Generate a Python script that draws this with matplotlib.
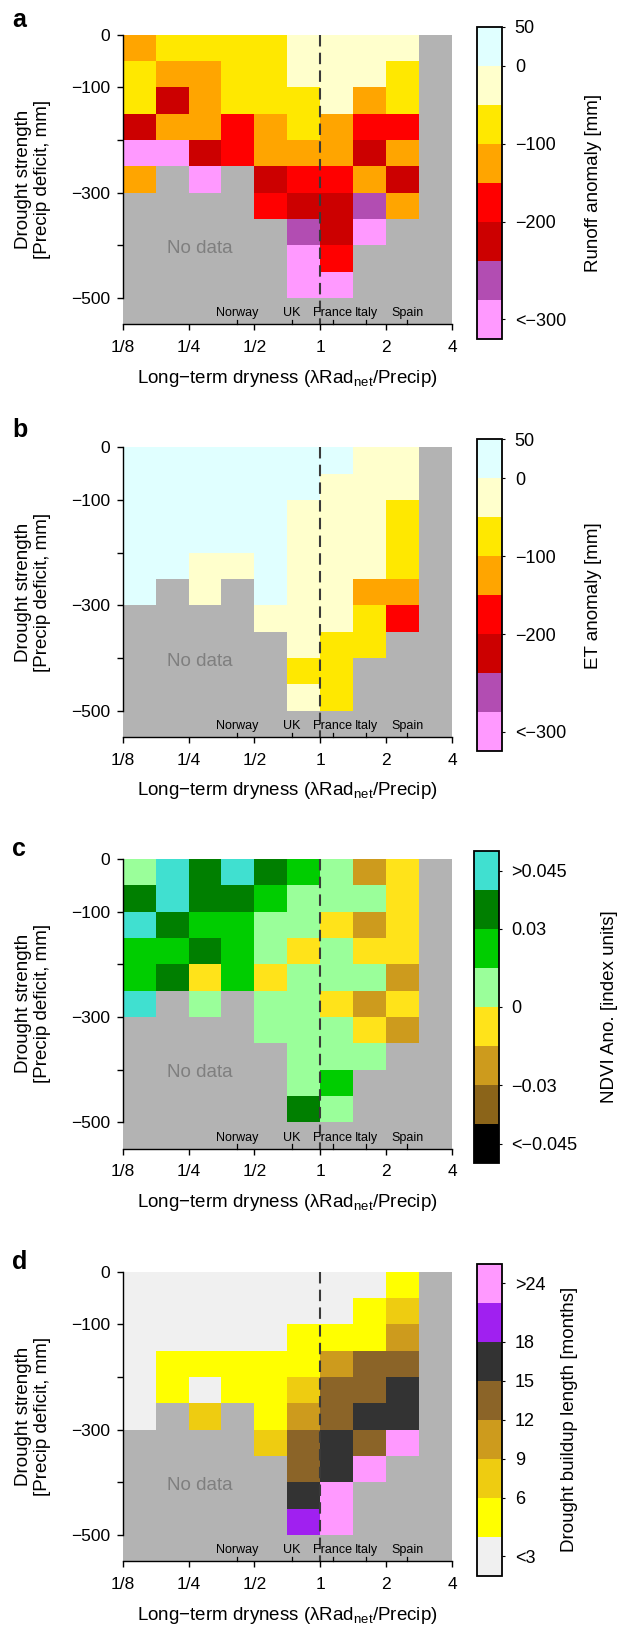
#Runoff / ET / NDVI anomalies and drought buildup length vs. dryness and drought strength
import numpy as np
import matplotlib.pyplot as plt
from matplotlib.colors import ListedColormap, BoundaryNorm
from matplotlib.cm import ScalarMappable
from matplotlib.ticker import NullLocator

plt.rcParams['font.family'] = ['Liberation Sans', 'DejaVu Sans']
plt.rcParams['mathtext.fontset'] = 'custom'
plt.rcParams['mathtext.rm'] = 'Liberation Sans'
plt.rcParams['mathtext.it'] = 'Liberation Sans:italic'

nan = np.nan

# grid: 10 columns (half-octave bins of dryness 1/8..4), 11 rows (50 mm bins of deficit 0..-550)
x_edges = 2.0 ** np.arange(-3, 2.01, 0.5)
y_edges = np.arange(0, -551, -50)

# a: runoff anomaly [mm] (bin mid values)
runoff = [
    [-125, -75, -75, -75, -75, -25, -25, -25, -25, nan],
    [-75, -125, -125, -75, -75, -25, -25, -25, -75, nan],
    [-75, -225, -125, -75, -75, -75, -25, -125, -75, nan],
    [-225, -125, -125, -175, -125, -75, -125, -175, -175, nan],
    [-325, -325, -225, -175, -125, -125, -125, -225, -125, nan],
    [-125, nan, -325, nan, -225, -175, -175, -125, -225, nan],
    [nan, nan, nan, nan, -175, -225, -225, -275, -125, nan],
    [nan, nan, nan, nan, nan, -275, -225, -325, nan, nan],
    [nan, nan, nan, nan, nan, -325, -175, nan, nan, nan],
    [nan, nan, nan, nan, nan, -325, -325, nan, nan, nan],
    [nan, nan, nan, nan, nan, nan, nan, nan, nan, nan],
]

# b: ET anomaly [mm]
et = [
    [25, 25, 25, 25, 25, 25, 25, -25, -25, nan],
    [25, 25, 25, 25, 25, 25, -25, -25, -25, nan],
    [25, 25, 25, 25, 25, -25, -25, -25, -75, nan],
    [25, 25, 25, 25, 25, -25, -25, -25, -75, nan],
    [25, 25, -25, -25, 25, -25, -25, -25, -75, nan],
    [25, nan, -25, nan, 25, -25, -25, -125, -125, nan],
    [nan, nan, nan, nan, -25, -25, -25, -75, -175, nan],
    [nan, nan, nan, nan, nan, -25, -75, -75, nan, nan],
    [nan, nan, nan, nan, nan, -75, -75, nan, nan, nan],
    [nan, nan, nan, nan, nan, -25, -75, nan, nan, nan],
    [nan, nan, nan, nan, nan, nan, nan, nan, nan, nan],
]

# c: NDVI anomaly [index units]
ndvi = [
    [0.0075, 0.0525, 0.0375, 0.0525, 0.0375, 0.0225, 0.0075, -0.0225, -0.0075, nan],
    [0.0375, 0.0525, 0.0375, 0.0375, 0.0225, 0.0075, 0.0075, 0.0075, -0.0075, nan],
    [0.0525, 0.0375, 0.0225, 0.0225, 0.0075, 0.0075, -0.0075, -0.0225, -0.0075, nan],
    [0.0225, 0.0225, 0.0375, 0.0225, 0.0075, -0.0075, 0.0075, -0.0075, -0.0075, nan],
    [0.0225, 0.0375, -0.0075, 0.0225, -0.0075, 0.0075, 0.0075, 0.0075, -0.0225, nan],
    [0.0525, nan, 0.0075, nan, 0.0075, 0.0075, -0.0075, -0.0225, -0.0075, nan],
    [nan, nan, nan, nan, 0.0075, 0.0075, 0.0075, -0.0075, -0.0225, nan],
    [nan, nan, nan, nan, nan, 0.0075, 0.0075, 0.0075, nan, nan],
    [nan, nan, nan, nan, nan, 0.0075, 0.0225, nan, nan, nan],
    [nan, nan, nan, nan, nan, 0.0375, 0.0075, nan, nan, nan],
    [nan, nan, nan, nan, nan, nan, nan, nan, nan, nan],
]

# d: drought buildup length [months]
buildup = [
    [1.5, 1.5, 1.5, 1.5, 1.5, 1.5, 1.5, 1.5, 4.5, nan],
    [1.5, 1.5, 1.5, 1.5, 1.5, 1.5, 1.5, 4.5, 7.5, nan],
    [1.5, 1.5, 1.5, 1.5, 1.5, 4.5, 4.5, 4.5, 10.5, nan],
    [1.5, 4.5, 4.5, 4.5, 4.5, 4.5, 10.5, 13.5, 13.5, nan],
    [1.5, 4.5, 1.5, 4.5, 4.5, 7.5, 13.5, 13.5, 16.5, nan],
    [1.5, nan, 7.5, nan, 4.5, 10.5, 13.5, 16.5, 16.5, nan],
    [nan, nan, nan, nan, 7.5, 13.5, 16.5, 13.5, 27, nan],
    [nan, nan, nan, nan, nan, 13.5, 16.5, 27, nan, nan],
    [nan, nan, nan, nan, nan, 16.5, 27, nan, nan, nan],
    [nan, nan, nan, nan, nan, 21, 27, nan, nan, nan],
    [nan, nan, nan, nan, nan, nan, nan, nan, nan, nan],
]

# colour classes (bottom -> top of colorbar)
mm_bounds = [-350, -300, -250, -200, -150, -100, -50, 0, 50]
mm_colors = ['#ff99ff', '#b24db2', '#cc0000', '#ff0000', '#ffa500', '#ffe800', '#ffffcc', '#e0ffff']
mm_ticks = [50, 0, -100, -200, -325]
mm_labels = ['50', '0', '\u2212100', '\u2212200', '<\u2212300']

ndvi_bounds = [-0.06, -0.045, -0.03, -0.015, 0, 0.015, 0.03, 0.045, 0.06]
ndvi_colors = ['#000000', '#8b6419', '#cd9b1d', '#ffe31a', '#9aff9a', '#00cd00', '#007f00', '#40e0d0']
ndvi_ticks = [0.0525, 0.03, 0, -0.03, -0.0525]
ndvi_labels = ['>0.045', '0.03', '0', '\u22120.03', '<\u22120.045']

bu_bounds = [0, 3, 6, 9, 12, 15, 18, 24, 30]
bu_colors = ['#f0f0f0', '#ffff00', '#eecc11', '#cd9b1d', '#8b6428', '#333333', '#a020f0', '#ff99ff']
bu_ticks = [27, 18, 15, 12, 9, 6, 1.5]
bu_labels = ['>24', '18', '15', '12', '9', '6', '<3']

countries = ['Norway', 'UK', 'France', 'Italy', 'Spain']
country_x = [0.415, 0.740, 1.140, 1.618, 2.50]

panels = [
    ('a', runoff, mm_bounds, mm_colors, mm_ticks, mm_labels, 'Runoff anomaly [mm]'),
    ('b', et, mm_bounds, mm_colors, mm_ticks, mm_labels, 'ET anomaly [mm]'),
    ('c', ndvi, ndvi_bounds, ndvi_colors, ndvi_ticks, ndvi_labels, 'NDVI Ano. [index units]'),
    ('d', buildup, bu_bounds, bu_colors, bu_ticks, bu_labels, 'Drought buildup length [months]'),
]

W, H = 620, 1629
fig = plt.figure(figsize=(W / 100, H / 100), dpi=100)

def rect(l, t, w, h):
    return [l / W, 1 - (t + h) / H, w / W, h / H]

tops = [34.7, 447.3, 859, 1271.7]
letter_y = [26.7, 436.7, 855.7, 1269.3]
cb_left = [476.7, 476.7, 473.5, 476.7]
cb_label_x = [593, 593, 609, 569]
ax_l, ax_w, ax_h = 122.7, 329.3, 289.7

for k, (letter, data, bounds, colors, ticks, labels, cblabel) in enumerate(panels):
    top = tops[k]
    cmap = ListedColormap(colors)
    norm = BoundaryNorm(bounds, cmap.N)

    ax = fig.add_axes(rect(ax_l, top, ax_w, ax_h))
    ax.set_facecolor('#b3b3b3')
    ax.pcolormesh(x_edges, y_edges, np.ma.masked_invalid(np.array(data)),
                  cmap=cmap, norm=norm, shading='flat', antialiased=False, linewidth=0)
    ax.set_xscale('log', base=2)
    ax.set_xlim(1 / 8, 4)
    ax.set_ylim(-550, 0)

    for s in ['top', 'right']:
        ax.spines[s].set_visible(False)
    ax.spines['left'].set_bounds(-500, 0)
    ax.spines['bottom'].set_bounds(1 / 8, 4)
    for s in ['left', 'bottom']:
        ax.spines[s].set_linewidth(1.0)

    ax.set_xticks([1 / 8, 1 / 4, 1 / 2, 1, 2, 4])
    ax.set_xticklabels(['1/8', '1/4', '1/2', '1', '2', '4'])
    ax.xaxis.set_minor_locator(NullLocator())
    ax.set_yticks([0, -100, -200, -300, -400, -500])
    ax.set_yticklabels(['0', '\u2212100', '', '\u2212300', '', '\u2212500'])
    ax.tick_params(axis='x', length=4.3, width=1.0, pad=7, labelsize=12.5)
    ax.tick_params(axis='y', length=4.3, width=1.0, pad=5, labelsize=12.5)

    # dashed line at dryness = 1
    ax.plot([1, 1], [0, -550], color='#3a3a3a', lw=1.5, dashes=(5.5, 3))

    # country markers
    for name, cx in zip(countries, country_x):
        ax.plot([cx, cx], [-550, -542], color='black', lw=0.9, clip_on=False)
        ax.text(cx, -529, name, ha='center', va='center', fontsize=9)

    ax.text(0.281, -406, 'No data', ha='center', va='center', fontsize=13.5, color='#7f7f7f')

    ax.set_xlabel('Long\u2212term dryness (\u03bbRad$_{\\rm net}$/Precip)', fontsize=13.5, labelpad=9)
    fig.text(32.8 / W, 1 - (top + ax_h / 2) / H, 'Drought strength\n[Precip deficit, mm]',
             rotation=90, ha='center', va='center', multialignment='center', fontsize=13.5,
             linespacing=1.15)

    # colorbar
    cax = fig.add_axes(rect(cb_left[k], top - 8, 25.6, 312))
    cb = fig.colorbar(ScalarMappable(norm=norm, cmap=cmap), cax=cax, spacing='uniform', ticks=ticks)
    cb.ax.set_yticklabels(labels)
    cb.ax.minorticks_off()
    cb.outline.set_linewidth(1.3)
    cb.ax.tick_params(length=2, width=0.8, pad=7, labelsize=13)
    fig.text(cb_label_x[k] / W, 1 - (top - 8 + 156) / H, cblabel, rotation=90,
             ha='center', va='center', fontsize=13.5)

    fig.text(12 / W, 1 - letter_y[k] / H, letter, fontsize=18, fontweight='bold',
             ha='left', va='baseline')

fig.savefig('out.png', dpi=100)
